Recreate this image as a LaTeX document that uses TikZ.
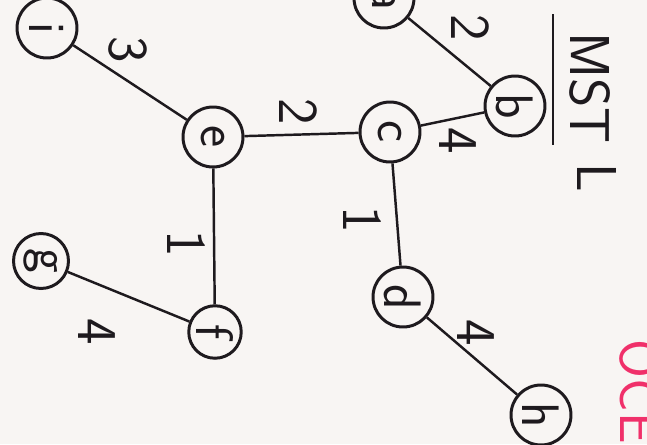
\documentclass[tikz,border=0pt]{standalone}
\usetikzlibrary{positioning}
\definecolor{ink}{HTML}{1E1A1E}
\definecolor{paper}{HTML}{F8F5F3}
\definecolor{redpen}{HTML}{F0306A}

\begin{document}
\begin{tikzpicture}[x=0.02cm, y=-0.02cm,
    vtx/.style={circle, draw=ink, line width=1.7pt, minimum size=1.2cm,
      inner sep=0pt, rotate=-90, text=ink,
      font=\sffamily\fontsize{30}{32}\selectfont},
    e/.style={ink, line width=1.4pt},
    wt/.style={rotate=-90, text=ink, font=\sffamily\fontsize{32}{34}\selectfont}]
  \fill[paper] (0,0) rectangle (647,444);
  \useasboundingbox (0,0) rectangle (647,444);
  % vertices
  \node[vtx] (i) at (47,28) {i};
  \node[vtx] (e) at (213,137) {e};
  \node[vtx] (c) at (390,132) {c};
  \node[vtx] (a) at (384,-2) {a};
  \node[vtx] (b) at (515,106) {b};
  \node[vtx, minimum size=1.05cm] (f) at (215,332) {f};
  \node[vtx, minimum size=1.1cm] (g) at (41,261) {g};
  \node[vtx] (d) at (403,297) {d};
  \node[vtx] (h) at (541,415) {h};
  \foreach \a/\b in {i/e,e/c,a/b,c/b,e/f,c/d,f/g,d/h} \draw[e] (\a)--(\b);
  % weights
  \node[wt] (w1) at (128,50) {3};
  \node[wt] (w2) at (298,112) {2};
  \node[wt] (w3) at (470,28) {2};
  \node[wt] (w4) at (458,141) {4};
  \node[wt] (w5) at (186,244) {1};
  \node[wt] (w6) at (362,220) {1};
  \node[wt] (w7) at (97,332) {4};
  \node[wt] (w8) at (476,333) {4};
  % title
  \node[wt] (mst) at (590,88) {MST};
  \node[wt] (l) at (597,178) {L};
  \draw[e] (553,14) -- (553,145);
  \node[wt, text=redpen] (oce) at (640,392) {OCE};
\end{tikzpicture}
\end{document}
